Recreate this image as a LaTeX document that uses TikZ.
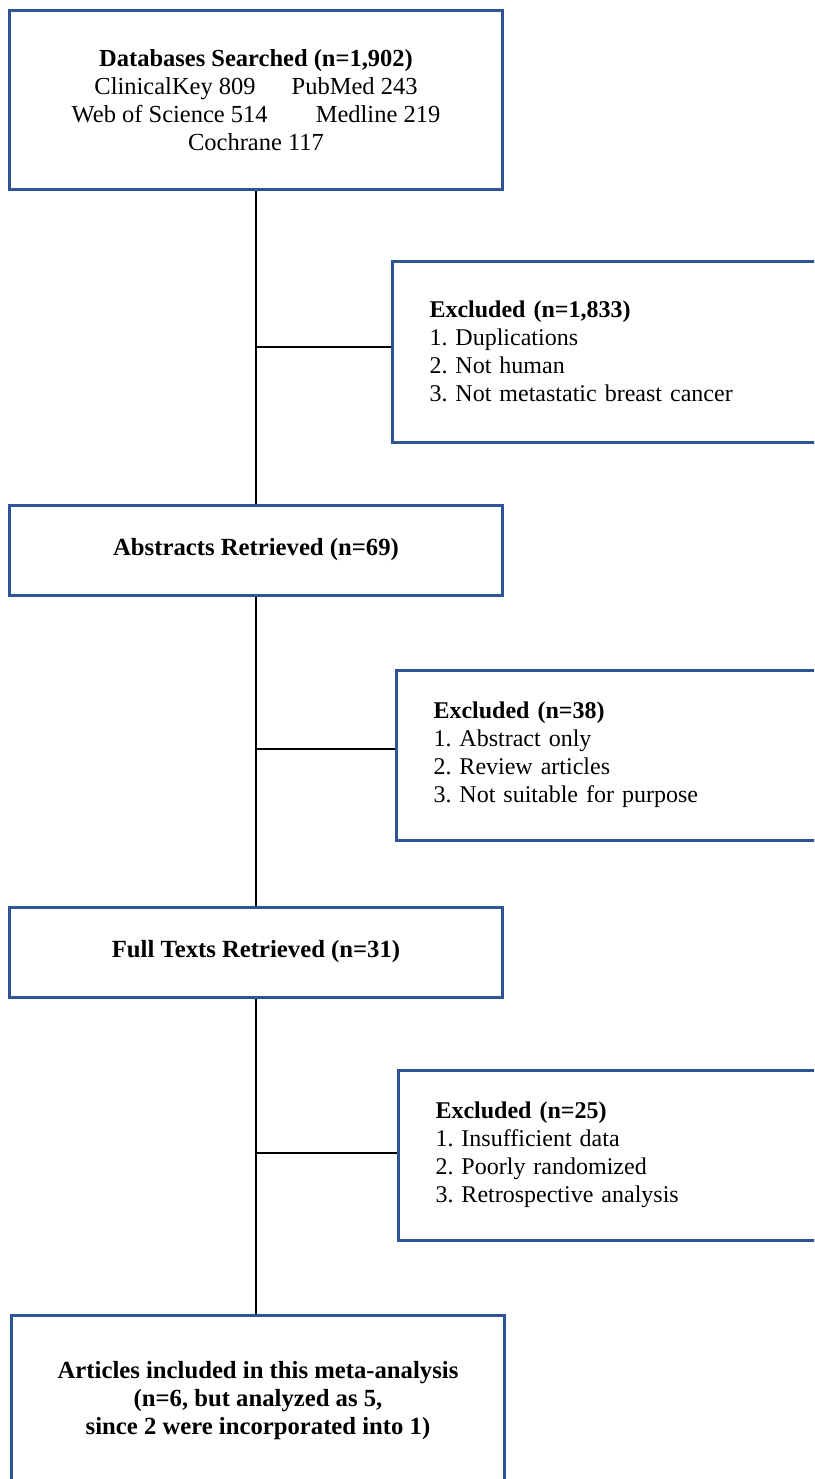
\documentclass[tikz,border=0pt]{standalone}
\usepackage{fontspec}
\setmainfont{Liberation Serif}
\definecolor{boxblue}{HTML}{2F5496}
\frenchspacing
\begin{document}
\begin{tikzpicture}[x=1pt,y=1pt,
  box/.style={draw=boxblue, line width=3pt, fill=white, inner sep=0pt,
    font=\fontsize{24.5}{28}\selectfont},
  mainbox/.style={box, align=center, font=\fontsize{24.7}{28}\selectfont\bfseries},
  exclbox/.style={box, anchor=west, align=left, text width=403pt, inner xsep=37pt,
    font=\fontsize{24}{28}\selectfont},
  link/.style={draw=black, line width=1.6pt}]
\useasboundingbox (0,0) rectangle (814,-1479);
\clip (0,0) rectangle (814,-1479);

\node[box, align=center, minimum width=493pt, minimum height=179pt] (db) at (256,-100.5)
  {\textbf{Databases Searched (n=1,902)}\\
   ClinicalKey 809\hspace{36pt}PubMed 243\\
   Web of Science 514\hspace{48pt}Medline 219\\
   Cochrane 117};

\node[exclbox, minimum height=181pt] (ex1) at (391,-351.5)
  {\textbf{Excluded (n=1,833)}\\
   1. Duplications\\
   2. Not human\\
   3. Not metastatic breast cancer};

\node[mainbox, minimum width=493pt, minimum height=90pt] (abs) at (256,-550)
  {Abstracts Retrieved (n=69)};

\node[exclbox, minimum height=170pt] (ex2) at (395,-755)
  {\textbf{Excluded (n=38)}\\
   1. Abstract only\\
   2. Review articles\\
   3. Not suitable for purpose};

\node[mainbox, minimum width=493pt, minimum height=90pt] (full) at (256,-952)
  {Full Texts Retrieved (n=31)};

\node[exclbox, minimum height=170pt] (ex3) at (397,-1155)
  {\textbf{Excluded (n=25)}\\
   1. Insufficient data\\
   2. Poorly randomized\\
   3. Retrospective analysis};

\node[mainbox, minimum width=493pt, minimum height=172pt] (art) at (258,-1401)
  {Articles included in this meta-analysis\\
   (n=6, but analyzed as 5,\\
   since 2 were incorporated into 1)};

\draw[link] (db.south) -- (abs.north);
\draw[link] (abs.south) -- (full.north);
\draw[link] (full.south) -- (full.south |- art.north);

\coordinate (j1) at (256,-347);
\coordinate (j2) at (256,-749);
\coordinate (j3) at (256,-1153);
\draw[link] (j1) -- (j1 -| ex1.west);
\draw[link] (j2) -- (j2 -| ex2.west);
\draw[link] (j3) -- (j3 -| ex3.west);
\end{tikzpicture}
\end{document}
